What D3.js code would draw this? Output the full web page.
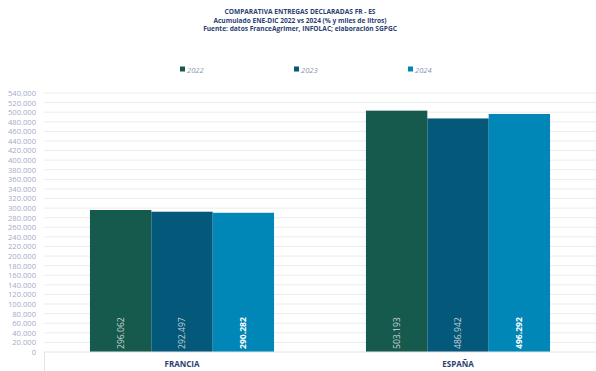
<!DOCTYPE html>
<html>
<head>
<meta charset="utf-8">
<script src="https://cdn.jsdelivr.net/npm/d3@7"></script>
<style>
  body { margin: 0; background: #fff; }
  svg { font-family: "Open Sans", "Noto Sans", sans-serif; }
</style>
</head>
<body>
<div id="chart"></div>
<script>
// data
var categories = ["FRANCIA", "ESPAÑA"];
var years = ["2022", "2023", "2024"];
var values2022 = [296062, 503193];
var values2023 = [292497, 486942];
var values2024 = [290282, 496292];
var titleLines = [
  "COMPARATIVA ENTREGAS DECLARADAS FR - ES",
  "Acumulado ENE-DIC 2022 vs 2024 (% y miles de litros)",
  "Fuente: datos FranceAgrimer, INFOLAC; elaboración SGPGC"
];

var colors = ["#165a4d", "#04587a", "#0087b8"];

var W = 596, H = 371;
var margin = {top: 93, right: 0, bottom: 19, left: 44};
var width = W - margin.left - margin.right,
    height = H - margin.top - margin.bottom;

var svg = d3.select("#chart").append("svg")
    .attr("width", W)
    .attr("height", H);

// title
svg.selectAll(".title")
    .data(titleLines)
    .enter().append("text")
    .attr("class", "title")
    .attr("x", 300)
    .attr("y", function(d, i) { return 14 + i * 8.5; })
    .attr("text-anchor", "middle")
    .style("font-size", "6.6px")
    .style("font-weight", "bold")
    .style("fill", "#2b3f73")
    .text(function(d) { return d; });

var g = svg.append("g")
    .attr("transform", "translate(" + margin.left + "," + margin.top + ")");

var x0 = d3.scaleBand().domain(categories).range([0, width]).paddingInner(0.333).paddingOuter(0.1665);
var x1 = d3.scaleBand().domain(years).range([0, x0.bandwidth()]);
var y = d3.scaleLinear().domain([0, 540000]).range([height, 0]);

var ticks = d3.range(0, 540001, 20000);

// gridlines
g.selectAll(".grid")
    .data(ticks.filter(function(t) { return t > 0; }))
    .enter().append("line")
    .attr("x1", 0).attr("x2", width)
    .attr("y1", function(d) { return y(d); })
    .attr("y2", function(d) { return y(d); })
    .style("stroke", "#ececec")
    .style("stroke-width", 1);

// y axis labels
var yAxis = g.append("g")
    .call(d3.axisLeft(y).tickValues(ticks).tickSize(0).tickPadding(8)
      .tickFormat(function(d) { return d === 0 ? "0" : d3.format(",")(d).replace(/,/g, "."); }));
yAxis.select(".domain").remove();
yAxis.selectAll("text")
    .style("font-size", "7.6px")
    .style("fill", "#a3abc7")
    .style("font-family", "'Open Sans', sans-serif");

// rows for bars
var rows = categories.map(function(c, i) {
  return {cat: c, vals: [values2022[i], values2023[i], values2024[i]]};
});

var groups = g.selectAll(".cat")
    .data(rows)
    .enter().append("g")
    .attr("class", "cat")
    .attr("transform", function(d) { return "translate(" + x0(d.cat) + ",0)"; });

groups.selectAll("rect")
    .data(function(d) { return d.vals.map(function(v, j) { return {year: years[j], v: v, j: j}; }); })
    .enter().append("rect")
    .attr("x", function(d) { return x1(d.year); })
    .attr("y", function(d) { return y(d.v); })
    .attr("width", x1.bandwidth())
    .attr("height", function(d) { return height - y(d.v); })
    .style("fill", function(d) { return colors[d.j]; });

// value labels inside base, rotated
groups.selectAll(".vlabel")
    .data(function(d) { return d.vals.map(function(v, j) { return {year: years[j], v: v, j: j}; }); })
    .enter().append("text")
    .attr("class", "vlabel")
    .attr("transform", function(d) {
      return "translate(" + (x1(d.year) + x1.bandwidth() / 2 + 3) + "," + (height - 3) + ") rotate(-90)";
    })
    .attr("text-anchor", "start")
    .style("font-size", "8.6px")
    .style("font-weight", function(d) { return d.j === 2 ? "bold" : "normal"; })
    .style("fill", function(d) { return d.j === 2 ? "#ffffff" : "#c9d3d6"; })
    .text(function(d) { return d3.format(",")(d.v).replace(/,/g, "."); });

// category axis
g.append("line")
    .attr("x1", 0).attr("x2", width)
    .attr("y1", height).attr("y2", height)
    .style("stroke", "#e4e4e4");
g.append("line")
    .attr("x1", 0.5).attr("x2", 0.5)
    .attr("y1", height).attr("y2", height + 19)
    .style("stroke", "#e4e4e4");

g.selectAll(".clabel")
    .data(categories)
    .enter().append("text")
    .attr("class", "clabel")
    .attr("x", function(d) { return x0(d) + x0.bandwidth() / 2; })
    .attr("y", height + 15)
    .attr("text-anchor", "middle")
    .style("font-size", "8px")
    .style("font-weight", "bold")
    .style("fill", "#2b3f73")
    .text(function(d) { return d; });

// legend
var legendX = [180, 294, 408];
var legend = svg.selectAll(".legend")
    .data(years)
    .enter().append("g")
    .attr("class", "legend")
    .attr("transform", function(d, i) { return "translate(" + legendX[i] + ",70)"; });
legend.append("rect")
    .attr("x", 0).attr("y", -3.5)
    .attr("width", 5).attr("height", 5)
    .style("fill", function(d, i) { return colors[i]; });
legend.append("text")
    .attr("x", 7).attr("y", 2.5)
    .style("font-size", "7.6px")
    .style("font-style", "italic")
    .style("fill", "#8a93b5")
    .text(function(d) { return d; });
</script>
</body>
</html>
